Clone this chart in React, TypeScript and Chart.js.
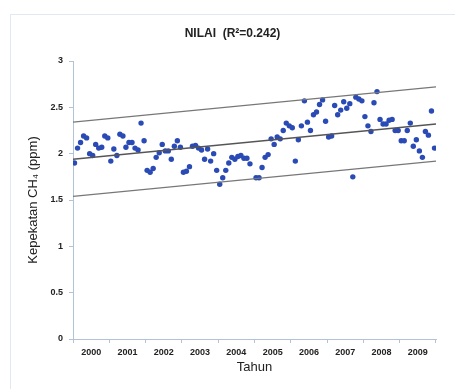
import React, { useEffect, useRef } from "react";
import { Chart, registerables } from "chart.js";

Chart.register(...registerables);

const title = "NILAI  (R²=0.242)";
const yTitle = "Kepekatan CH₄ (ppm)";
const xTitle = "Tahun";
const years = ["2000", "2001", "2002", "2003", "2004", "2005", "2006", "2007", "2008", "2009"];

// monthly CH4 values, Jan 2000 .. Dec 2009 (null = missing)
const values: (number | null)[] = [
  1.90, 2.06, 2.12, 2.19, 2.17, 2.00, 1.98, 2.10, 2.06, 2.07, 2.19, 2.17,
  1.92, 2.05, 1.98, 2.21, 2.19, 2.07, 2.12, 2.12, 2.06, 2.04, 2.33, 2.14,
  1.82, 1.80, 1.84, 1.96, 2.01, 2.10, 2.03, 2.03, 1.94, 2.08, 2.14, 2.07,
  1.80, 1.81, 1.86, 2.08, 2.09, 2.06, 2.04, 1.94, 2.05, 1.92, 2.00, 1.82,
  1.67, 1.74, 1.82, 1.90, 1.96, 1.94, 1.97, 1.98, 1.95, 1.95, 1.89, null,
  1.74, 1.74, 1.85, 1.96, 1.99, 2.16, 2.10, 2.18, 2.16, 2.25, 2.33, 2.30,
  2.28, 1.92, 2.15, 2.30, 2.57, 2.34, 2.25, 2.42, 2.45, 2.53, 2.58, 2.35,
  2.18, 2.19, 2.52, 2.42, 2.47, 2.56, 2.49, 2.54, 1.75, 2.61, 2.59, 2.57,
  2.40, 2.30, 2.24, 2.55, 2.67, 2.37, 2.32, 2.32, 2.36, 2.37, 2.25, 2.25,
  2.14, 2.14, 2.25, 2.33, 2.08, 2.15, 2.03, 1.96, 2.24, 2.20, 2.46, 2.06,
];

const lineX = [0, 120];
const trend = [1.94, 2.32];
const upper = [2.34, 2.72];
const lower = [1.54, 1.92];

const yTicks = [0, 0.5, 1, 1.5, 2, 2.5, 3];

const axisColor = "#b3c2d6";
const textColor = "#222";

export default function App() {
  const ref = useRef<HTMLCanvasElement | null>(null);

  useEffect(() => {
    if (!ref.current) return;
    const points = values
      .map((v, i) => (v === null ? null : { x: i + 0.5, y: v }))
      .filter((p) => p !== null) as { x: number; y: number }[];
    const mk = (arr: number[]) => arr.map((y, i) => ({ x: lineX[i], y }));

    const chart = new Chart(ref.current, {
      type: "scatter",
      data: {
        datasets: [
          {
            type: "line",
            data: mk(upper),
            xAxisID: "xm",
            yAxisID: "y",
            borderColor: "#777",
            borderWidth: 1.2,
            pointRadius: 0,
          },
          {
            type: "line",
            data: mk(lower),
            xAxisID: "xm",
            yAxisID: "y",
            borderColor: "#777",
            borderWidth: 1.2,
            pointRadius: 0,
          },
          {
            type: "line",
            data: mk(trend),
            xAxisID: "xm",
            yAxisID: "y",
            borderColor: "#555",
            borderWidth: 1.5,
            pointRadius: 0,
          },
          {
            type: "scatter",
            data: points,
            xAxisID: "xm",
            yAxisID: "y",
            backgroundColor: "#2a4ab5",
            borderColor: "#2a4ab5",
            borderWidth: 0,
            pointRadius: 2.7,
          },
        ],
      } as any,
      options: {
        animation: false,
        responsive: false,
        layout: { padding: { left: 10, right: 0, top: 0, bottom: 0 } },
        plugins: {
          legend: { display: false },
          tooltip: { enabled: false },
          title: {
            display: true,
            text: title,
            color: textColor,
            font: { family: "'Liberation Sans', Arial, sans-serif", size: 12, weight: "bold" },
            padding: { top: 26, bottom: 20.6 },
          },
        },
        scales: {
          xm: {
            type: "linear",
            display: false,
            min: 0,
            max: 120,
          },
          x: {
            type: "category",
            position: "bottom",
            labels: years,
            offset: true,
            grid: {
              offset: true,
              drawOnChartArea: false,
              tickLength: 4,
              color: axisColor,
            },
            border: { color: axisColor },
            ticks: {
              color: textColor,
              padding: 4,
              maxRotation: 0,
              font: { family: "'Liberation Sans', Arial, sans-serif", size: 9, weight: "bold" },
            },
            title: {
              display: true,
              text: xTitle,
              color: textColor,
              font: { family: "'Liberation Sans', Arial, sans-serif", size: 13 },
              padding: { top: 0, bottom: 14 },
            },
            afterFit: (s: any) => {
              s.height = 50;
            },
          },
          y: {
            type: "linear",
            position: "left",
            min: 0,
            max: 3,
            afterBuildTicks: (s: any) => {
              s.ticks = yTicks.map((v) => ({ value: v }));
            },
            grid: {
              drawOnChartArea: false,
              tickLength: 4,
              color: axisColor,
            },
            border: { color: axisColor },
            ticks: {
              color: textColor,
              padding: 6,
              callback: (v: any) => String(Number(v)),
              font: { family: "'Liberation Sans', Arial, sans-serif", size: 9, weight: "bold" },
            },
            title: {
              display: true,
              text: yTitle,
              color: textColor,
              font: { family: "'Liberation Sans', Arial, sans-serif", size: 13 },
              padding: { top: 16, bottom: 0 },
            },
            afterFit: (s: any) => {
              s.width = 63;
            },
          },
          yr: {
            type: "linear",
            position: "right",
            display: true,
            grid: { display: false },
            border: { display: false },
            ticks: { display: false },
            afterFit: (s: any) => {
              s.width = 19;
            },
          },
        },
      } as any,
    });
    return () => chart.destroy();
  }, []);

  return (
    <div style={{ position: "absolute", left: 0, top: 0, width: 455, height: 389, overflow: "hidden", background: "#fff" }}>
      <div
        style={{
          position: "absolute",
          left: 10,
          top: 14,
          width: 460,
          height: 400,
          borderTop: "1px solid #e2e8ef",
          borderLeft: "1px solid #e2e8ef",
        }}
      />
      <canvas ref={ref} width={455} height={389} style={{ position: "absolute", left: 0, top: 0 }} />
    </div>
  );
}
